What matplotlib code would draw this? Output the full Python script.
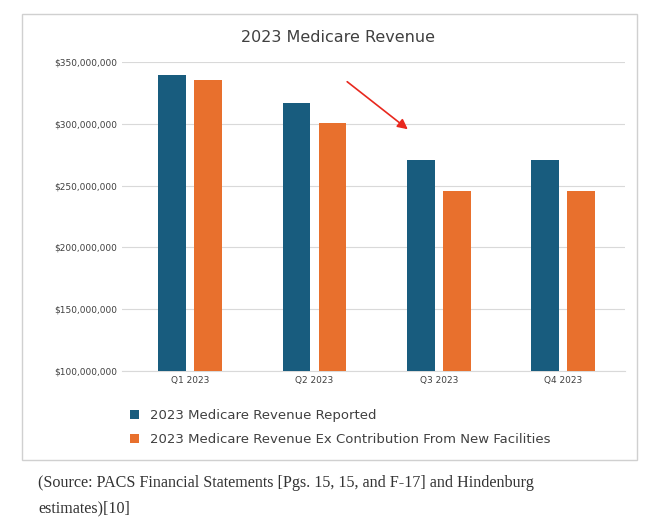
import matplotlib
matplotlib.use("Agg")
import matplotlib.pyplot as plt
import numpy as np
from matplotlib.patches import Rectangle
from matplotlib.ticker import FuncFormatter

quarters = ["Q1 2023", "Q2 2023", "Q3 2023", "Q4 2023"]
reported = [339.5e6, 316.5e6, 271e6, 271e6]
ex_new = [335.5e6, 300.5e6, 245.5e6, 245.5e6]
series_names = ["2023 Medicare Revenue Reported",
                "2023 Medicare Revenue Ex Contribution From New Facilities"]
yticks = [100e6, 150e6, 200e6, 250e6, 300e6, 350e6]

blue = "#185c7e"
orange = "#e8702d"

fig = plt.figure(figsize=(6.6, 5.19), dpi=100)
fig.patches.append(Rectangle((22/660, 1-460/519), (637-22)/660, (460-14)/519,
                             transform=fig.transFigure, fill=False,
                             edgecolor="#d0d0d0", linewidth=1))
ax = fig.add_axes([122/660, 1-371/519, (625-122)/660, (371-62)/519])
x = np.arange(len(quarters))
w = 0.225
ax.bar(x - 0.145, reported, w, color=blue, label=series_names[0], zorder=3)
ax.bar(x + 0.145, ex_new, w, color=orange, label=series_names[1], zorder=3)
ax.set_ylim(100e6, 350e6)
ax.set_xlim(-0.55, 3.5)
ax.set_yticks(yticks)
ax.yaxis.set_major_formatter(FuncFormatter(lambda v, p: f"${v:,.0f}"))
ax.set_xticks(x)
ax.set_xticklabels(quarters)
ax.tick_params(axis="both", length=0, labelsize=6.5, colors="#404040")
ax.grid(axis="y", color="#d9d9d9", linewidth=0.8, zorder=0)
for s in ["top", "right", "left"]:
    ax.spines[s].set_visible(False)
ax.spines["bottom"].set_color("#d9d9d9")
fig.text(338/660, 1-37/519, "2023 Medicare Revenue", ha="center", va="center",
         fontsize=11.5, color="#404040")
ax.legend(loc="upper left", bbox_to_anchor=(118/660, 1-397/519),
          bbox_transform=fig.transFigure, frameon=False, fontsize=9.5,
          handlelength=0.7, handleheight=0.7, labelspacing=0.85, labelcolor="#404040")
fig.add_artist(matplotlib.patches.FancyArrowPatch(
    (345/660, 1-80/519), (410/660, 1-131/519), transform=fig.transFigure,
    arrowstyle="-|>,head_length=6,head_width=3", color="#e8281e", linewidth=1.2))
fig.text(38/660, 1-483/519, "(Source: PACS Financial Statements [Pgs. 15, 15, and F-17] and Hindenburg",
         fontsize=11.6, family="Liberation Serif", color="#333333", va="center")
fig.text(38/660, 1-508/519, "estimates)[10]",
         fontsize=11.6, family="Liberation Serif", color="#333333", va="center")
fig.savefig("out.png", dpi=100)
